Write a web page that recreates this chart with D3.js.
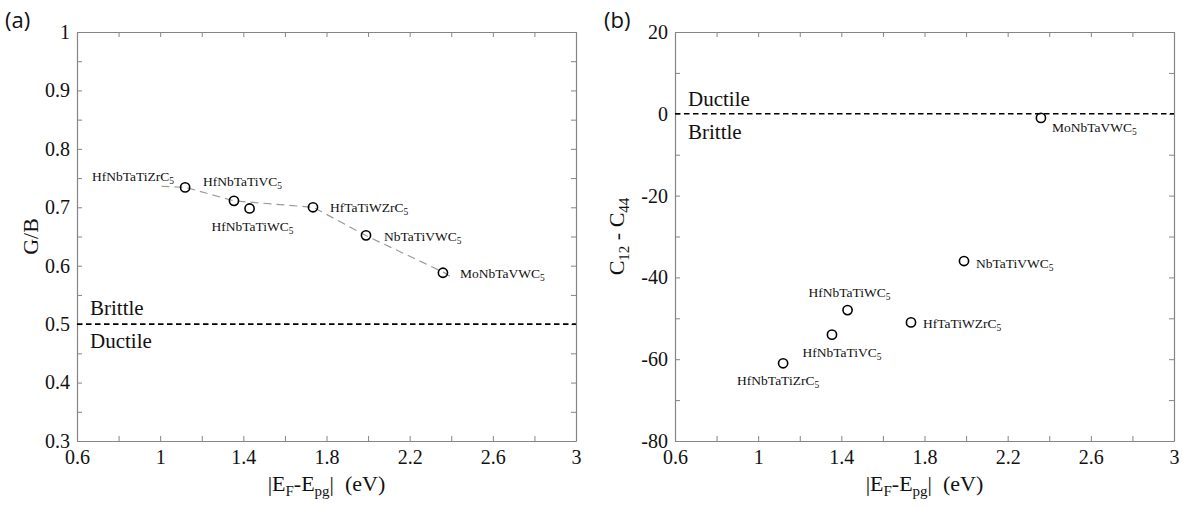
<!DOCTYPE html>
<html>
<head>
<meta charset="utf-8">
<script src="https://cdn.jsdelivr.net/npm/d3@7"></script>
<style>
  html, body { margin: 0; padding: 0; background: #fff; }
  svg { display: block; }
</style>
</head>
<body>
<svg id="fig" width="1183" height="508"></svg>
<script>
// ---- data ----
const compounds = ["HfNbTaTiZrC", "HfNbTaTiVC", "HfNbTaTiWC", "HfTaTiWZrC", "NbTaTiVWC", "MoNbTaVWC"];
const gapEnergy = [1.12, 1.355, 1.43, 1.735, 1.99, 2.36];      // |E_F - E_pg| (eV)
const pughRatio = [0.734, 0.711, 0.698, 0.700, 0.652, 0.588];  // G/B
const cauchyPressure = [-61, -54, -48, -51, -36, -1];          // C12 - C44
// trend guide drawn through the G/B points
const trendX = [1.006, 1.124, 1.355, 1.737, 1.987, 2.362, 2.402];
const trendY = [0.736, 0.734, 0.711, 0.700, 0.652, 0.589, 0.580];

const xTicks = [0.6, 0.8, 1, 1.2, 1.4, 1.6, 1.8, 2, 2.2, 2.4, 2.6, 2.8, 3];
const xLabels = [0.6, 1, 1.4, 1.8, 2.2, 2.6, 3];
const yTicksA = [0.3, 0.35, 0.4, 0.45, 0.5, 0.55, 0.6, 0.65, 0.7, 0.75, 0.8, 0.85, 0.9, 0.95, 1];
const yLabelsA = [0.3, 0.4, 0.5, 0.6, 0.7, 0.8, 0.9, 1];
const yTicksB = [-80, -70, -60, -50, -40, -30, -20, -10, 0, 10, 20];
const yLabelsB = [-80, -60, -40, -20, 0, 20];

// ---- label placement (anchor, dx, dy from marker centre) ----
const placeA = [["end", -11, -6], ["start", -31, -15], ["middle", 3, 23],
                ["start", 17, 5], ["start", 18, 6], ["start", 17, 5]];
const placeB = [["middle", -5, 22], ["middle", 10, 22], ["middle", 2, -13],
                ["start", 12, 6], ["start", 12, 7], ["start", 11, 14]];

const SERIF = "'Liberation Serif', 'Times New Roman', serif";
const SANS = "'Open Sans', 'Noto Sans', sans-serif";
const INK = "#111";

const svg = d3.select("#fig");
const plotTop = 32, plotBottom = 441;
const boxColor = "#858585";

function fmt(d) { return String(+d.toFixed(2)); }

function label(sel, size) {
  return sel.append("text").style("font-family", SERIF).style("font-size", size + "px").style("fill", INK);
}

function panel(opt) {
  const x = d3.scaleLinear().domain([0.6, 3]).range([opt.left, opt.right]);
  const y = d3.scaleLinear().domain(opt.yDomain).range([plotBottom, plotTop]);
  const g = svg.append("g");

  const isLab = (arr) => (d) => arr.some(v => Math.abs(v - d) < 1e-9) ? fmt(d) : "";

  const axes = [
    d3.axisBottom(x).tickValues(xTicks).tickFormat(isLab(xLabels)),
    d3.axisTop(x).tickValues(xTicks).tickFormat(""),
    d3.axisLeft(y).tickValues(opt.yTicks).tickFormat(isLab(opt.yLabels)),
    d3.axisRight(y).tickValues(opt.yTicks).tickFormat("")
  ];
  const shifts = [`translate(0,${plotBottom})`, `translate(0,${plotTop})`,
                  `translate(${opt.left},0)`, `translate(${opt.right},0)`];
  axes.forEach((ax, i) => {
    ax.tickSizeInner(-5).tickSizeOuter(0).tickPadding(i === 0 ? 9 : 7);
    const a = g.append("g").attr("transform", shifts[i]).call(ax);
    a.select(".domain").attr("stroke", boxColor).attr("stroke-width", 1.2);
    a.selectAll(".tick line").attr("stroke", boxColor).attr("stroke-width", 1);
    a.selectAll(".tick text")
      .style("font-family", SERIF).style("font-size", "20px").style("fill", INK);
  });

  // threshold line
  g.append("line")
    .attr("x1", opt.left).attr("x2", opt.right)
    .attr("y1", y(opt.threshold)).attr("y2", y(opt.threshold))
    .attr("stroke", "#000").attr("stroke-width", 1.6)
    .attr("stroke-dasharray", "5.5,3.5");

  label(g, 21).attr("x", opt.left + 13).attr("y", y(opt.threshold) - opt.upGap).text(opt.upText);
  label(g, 21).attr("x", opt.left + 13).attr("y", y(opt.threshold) + opt.downGap).text(opt.downText);

  if (opt.trend) {
    const pts = opt.trend[0].map((v, i) => [v, opt.trend[1][i]]);
    g.append("path")
      .attr("d", d3.line().x(d => x(d[0])).y(d => y(d[1]))(pts))
      .attr("fill", "none").attr("stroke", "#9a9a9a").attr("stroke-width", 1.2)
      .attr("stroke-dasharray", "8,5");
  }

  // markers
  g.selectAll("circle.pt").data(opt.values).join("circle")
    .attr("class", "pt")
    .attr("cx", (d, i) => x(gapEnergy[i])).attr("cy", d => y(d))
    .attr("r", 4.6).attr("fill", "none").attr("stroke", "#000").attr("stroke-width", 1.6);

  // compound labels
  opt.values.forEach((v, i) => {
    const [anchor, dx, dy] = opt.place[i];
    const t = label(g, 13.5)
      .attr("x", x(gapEnergy[i]) + dx).attr("y", y(v) + dy)
      .attr("text-anchor", anchor);
    t.append("tspan").text(compounds[i]);
    t.append("tspan").style("font-size", "9.5px").attr("dy", 3).text("5");
  });

  // x title: |E_F-E_pg|  (eV)
  const xt = label(g, 22).attr("x", (opt.left + opt.right) / 2).attr("y", 491)
    .attr("text-anchor", "middle");
  xt.append("tspan").text("|E");
  xt.append("tspan").style("font-size", "15px").attr("dy", 5).text("F");
  xt.append("tspan").attr("dy", -5).text("-E");
  xt.append("tspan").style("font-size", "15px").attr("dy", 5).text("pg");
  xt.append("tspan").attr("dy", -5).text("|");
  xt.append("tspan").attr("dx", 11).text("(eV)");

  // y title
  const yt = label(g, 22)
    .attr("transform", `translate(${opt.yTitleX},${(plotTop + plotBottom) / 2}) rotate(-90)`)
    .attr("text-anchor", "middle");
  opt.yTitle(yt);

  g.append("text").style("font-family", SANS).style("font-size", "22px").style("fill", INK)
    .attr("x", opt.tagX).attr("y", 28).text(opt.tag);
}

panel({
  left: 77, right: 576, yDomain: [0.3, 1], yTicks: yTicksA, yLabels: yLabelsA,
  values: pughRatio, place: placeA, threshold: 0.5,
  upText: "Brittle", downText: "Ductile", upGap: 9, downGap: 24,
  trend: [trendX, trendY], yTitleX: 38, tag: "(a)", tagX: 5,
  yTitle: t => t.text("G/B")
});

panel({
  left: 675, right: 1174, yDomain: [-80, 20], yTicks: yTicksB, yLabels: yLabelsB,
  values: cauchyPressure, place: placeB, threshold: 0,
  upText: "Ductile", downText: "Brittle", upGap: 8, downGap: 25,
  trend: null, yTitleX: 624, tag: "(b)", tagX: 604,
  yTitle: t => {
    t.append("tspan").text("C");
    t.append("tspan").style("font-size", "15px").attr("dy", 5).text("12");
    t.append("tspan").attr("dy", -5).text(" - C");
    t.append("tspan").style("font-size", "15px").attr("dy", 5).text("44");
  }
});
</script>
</body>
</html>
